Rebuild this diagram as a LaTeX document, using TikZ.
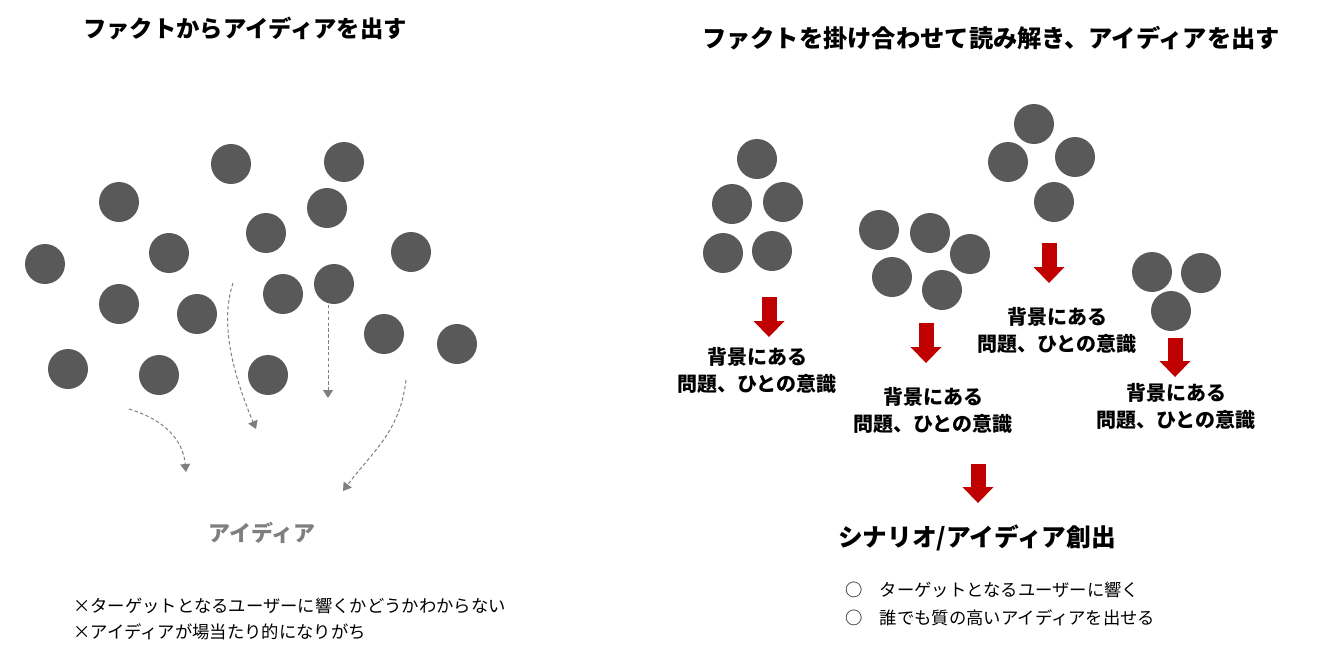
\documentclass[tikz,border=0pt]{standalone}
\usepackage{fontspec}
\setmainfont{Noto Sans CJK JP}
\usepackage{tikz}
\usetikzlibrary{arrows.meta}

\definecolor{factgray}{HTML}{595959}
\definecolor{arrowred}{HTML}{C00000}
\definecolor{ideagray}{HTML}{7F7F7F}

\tikzset{
  fact/.style={circle, fill=factgray, minimum size=30pt, inner sep=0pt},
  flow/.style={ideagray, line width=0.75pt, dash pattern=on 2.6pt off 1.8pt,
    -{Triangle[width=7.5pt,length=6pt]}},
  redarrow/.style={arrowred, line width=11.25pt,
    -{Triangle[width=23.25pt,length=12pt,line width=0pt]}},
  heading/.style={inner sep=0pt, font=\bfseries\fontsize{17.5pt}{21pt}\selectfont},
  reason/.style={inner sep=0pt, align=center, font=\bfseries\fontsize{15pt}{20.25pt}\selectfont},
  note/.style={inner sep=0pt, anchor=west, align=left}
}

\begin{document}
\begin{tikzpicture}[x=0.75pt, y=-0.75pt]

\useasboundingbox (0,0) rectangle (1341,658);

\node[heading] (lefttitle) at (245,28) {ファクトからアイディアを出す};
\node[heading, font=\bfseries\fontsize{18.2pt}{21pt}\selectfont] (righttitle) at (991,38) {ファクトを掛け合わせて読み解き、アイディアを出す};

\foreach \x/\y [count=\i] in {231/164, 344/162, 119/202, 327/208, 266/233, 169/253,
  45/264, 411/252, 119/304, 283/294, 334/284, 197/314, 384/334, 457/344,
  68/369, 159/375, 268/375}
\node[fact] (f\i) at (\x,\y) {};

\coordinate (d1s) at (129,409);
\coordinate (d1e) at (186,472);
\coordinate (d2s) at (233,283);
\coordinate (d2e) at (256,429);
\coordinate (d3s) at (328,305);
\coordinate (d3e) at (328,398);
\coordinate (d4s) at (406,380);
\coordinate (d4e) at (343,491);

\draw[flow] (d1s) .. controls (165,420) and (183,440) .. (d1e);
\draw[flow] (d2s) .. controls (220,322) and (232,372) .. (d2e);
\draw[flow] (d3s) -- (d3e);
\draw[flow] (d4s) .. controls (400,432) and (372,452) .. (d4e);

\node[inner sep=0pt, text=ideagray, font=\bfseries\fontsize{16.5pt}{20pt}\selectfont] (idea) at (262,533) {アイディア};

\node[note, font=\fontsize{13pt}{19.5pt}\selectfont] (badnotes) at (73,619)
  {×ターゲットとなるユーザーに響くかどうかわからない\\×アイディアが場当たり的になりがち};

\foreach \x/\y [count=\i] in {757/159, 732/204, 783/202, 723/253, 772/251}
\node[fact] (a\i) at (\x,\y) {};
\foreach \x/\y [count=\i] in {879/230, 930/233, 970/254, 892/277, 942/290}
\node[fact] (b\i) at (\x,\y) {};
\foreach \x/\y [count=\i] in {1034/124, 1008/162, 1075/157, 1054/202}
\node[fact] (c\i) at (\x,\y) {};
\foreach \x/\y [count=\i] in {1152/272, 1201/273, 1171/311}
\node[fact] (e\i) at (\x,\y) {};

\coordinate (r1s) at (769,297);
\coordinate (r1e) at (769,337);
\coordinate (r2s) at (926,323);
\coordinate (r2e) at (926,363);
\coordinate (r3s) at (1049,243);
\coordinate (r3e) at (1049,283);
\coordinate (r4s) at (1175,338);
\coordinate (r4e) at (1175,377);
\coordinate (r5s) at (978,464);
\coordinate (r5e) at (978,503);

\foreach \i in {1,...,5}
\draw[redarrow] (r\i s) -- (r\i e);

\node[reason] (bg1) at (757,370.5) {背景にある\\問題、ひとの意識};
\node[reason] (bg2) at (933,410.5) {背景にある\\問題、ひとの意識};
\node[reason] (bg3) at (1057,330.5) {背景にある\\問題、ひとの意識};
\node[reason] (bg4) at (1176,406.5) {背景にある\\問題、ひとの意識};

\node[inner sep=0pt, font=\bfseries\fontsize{18.5pt}{24pt}\selectfont] (scenario) at (977,538) {シナリオ/アイディア創出};

\node[note, font=\fontsize{13pt}{21pt}\selectfont] (goodnotes) at (845,604)
  {○\hspace{13pt}ターゲットとなるユーザーに響く\\○\hspace{13pt}誰でも質の高いアイディアを出せる};

\end{tikzpicture}
\end{document}
